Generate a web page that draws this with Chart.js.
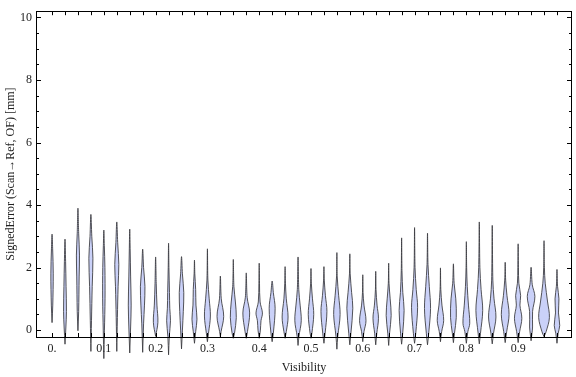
<!DOCTYPE html>
<html lang="en">
<head>
    <meta charset="UTF-8">
    <title>Signed error vs visibility</title>
    <script src="https://cdn.jsdelivr.net/npm/chart.js"></script>
    <style>
        body {
            margin: 0;
            padding: 0;
            background: #fff;
        }
        #wrap {
            width: 576px;
            height: 377px;
        }
    </style>
</head>
<body>
    <div id="wrap"><canvas id="violinChart" width="576" height="377"></canvas></div>

    <script>
        // violin centres (visibility)
        const visibility = [
            0.000, 0.025, 0.050, 0.075, 0.100, 0.125, 0.150, 0.175, 0.200, 0.225,
            0.250, 0.275, 0.300, 0.325, 0.350, 0.375, 0.400, 0.425, 0.450, 0.475,
            0.500, 0.525, 0.550, 0.575, 0.600, 0.625, 0.650, 0.675, 0.700, 0.725,
            0.750, 0.775, 0.800, 0.825, 0.850, 0.875, 0.900, 0.925, 0.950, 0.975
        ];
        // smallest and largest signed error of each violin [mm]
        const errMin = [
            0.24, -0.45, -0.02, -0.68, -0.91, -0.68, -0.73, -0.71, -0.20, -0.79,
            -0.60, -0.42, -0.37, -0.21, -0.26, -0.26, -0.26, -0.37, -0.26, -0.49,
            -0.26, -0.42, -0.61, -0.47, -0.37, -0.47, -0.49, -0.45, -0.42, -0.47,
            -0.37, -0.40, -0.42, -0.44, -0.44, -0.40, -0.40, -0.34, -0.21, -0.42
        ];
        const errMax = [
            3.07, 2.91, 3.90, 3.70, 3.20, 3.46, 3.23, 2.59, 2.34, 2.78,
            2.35, 2.24, 2.60, 1.73, 2.26, 1.83, 2.14, 1.57, 2.03, 2.34,
            1.97, 2.03, 2.48, 2.44, 1.77, 1.88, 2.14, 2.95, 3.28, 3.10,
            1.99, 2.12, 2.83, 3.46, 3.35, 2.17, 2.76, 2.01, 2.86, 1.94
        ];
        // density profile of each violin: [error, relative density]
        const density = [
            [[0.8, 0.12], [1.8, 0.2], [2.6, 0.1]],
            [[0.1, 0.15], [0.6, 0.24], [1.4, 0.18], [2.2, 0.1]],
            [[0.6, 0.12], [1.7, 0.2], [2.4, 0.26], [3.1, 0.12]],
            [[0.3, 0.1], [1.4, 0.22], [2.3, 0.34], [3.0, 0.15]],
            [[0.0, 0.1], [1.0, 0.2], [2.0, 0.18], [2.7, 0.08]],
            [[0.4, 0.1], [1.4, 0.22], [2.1, 0.34], [2.8, 0.15]],
            [[0.1, 0.15], [0.8, 0.24], [1.7, 0.15], [2.6, 0.07]],
            [[0.2, 0.15], [0.8, 0.3], [1.4, 0.38], [2.0, 0.15]],
            [[0.25, 0.38], [0.8, 0.22], [1.5, 0.1]],
            [[-0.2, 0.12], [0.3, 0.32], [0.7, 0.2], [1.2, 0.15], [2.0, 0.06]],
            [[0.0, 0.15], [0.6, 0.3], [1.2, 0.38], [1.8, 0.15]],
            [[-0.05, 0.2], [0.35, 0.42], [0.8, 0.25], [1.3, 0.2], [1.8, 0.06]],
            [[-0.1, 0.18], [0.45, 0.5], [1.0, 0.3], [1.6, 0.08]],
            [[-0.05, 0.12], [0.44, 0.56], [1.0, 0.15]],
            [[-0.1, 0.2], [0.4, 0.5], [0.9, 0.35], [1.4, 0.1]],
            [[-0.05, 0.2], [0.55, 0.57], [1.05, 0.15]],
            [[0.0, 0.2], [0.3, 0.3], [0.55, 0.54], [0.9, 0.15], [1.5, 0.05]],
            [[-0.1, 0.2], [0.7, 0.5], [1.2, 0.2]],
            [[-0.05, 0.2], [0.42, 0.5], [1.0, 0.2], [1.5, 0.06]],
            [[-0.2, 0.15], [0.3, 0.54], [0.8, 0.35], [1.3, 0.12]],
            [[-0.1, 0.15], [0.5, 0.46], [1.0, 0.25], [1.5, 0.06]],
            [[-0.1, 0.2], [0.6, 0.5], [1.1, 0.25], [1.6, 0.06]],
            [[-0.2, 0.15], [0.5, 0.54], [1.1, 0.3], [1.7, 0.06]],
            [[-0.1, 0.18], [0.7, 0.5], [1.2, 0.3], [1.8, 0.06]],
            [[-0.05, 0.2], [0.3, 0.54], [0.8, 0.2], [1.2, 0.05]],
            [[-0.1, 0.18], [0.38, 0.46], [0.8, 0.22], [1.3, 0.05]],
            [[-0.1, 0.15], [0.47, 0.42], [1.0, 0.25], [1.5, 0.06]],
            [[-0.1, 0.18], [0.63, 0.42], [1.2, 0.2], [1.9, 0.06]],
            [[-0.1, 0.2], [0.73, 0.51], [1.3, 0.28], [2.0, 0.08]],
            [[-0.1, 0.2], [0.69, 0.51], [1.4, 0.3], [2.1, 0.08]],
            [[-0.05, 0.2], [0.31, 0.54], [0.8, 0.25], [1.3, 0.06]],
            [[-0.1, 0.18], [0.4, 0.48], [1.0, 0.4], [1.5, 0.12]],
            [[-0.05, 0.25], [0.22, 0.57], [0.8, 0.35], [1.4, 0.15], [2.0, 0.05]],
            [[-0.1, 0.2], [0.63, 0.57], [1.3, 0.3], [2.0, 0.1]],
            [[-0.1, 0.22], [0.42, 0.62], [1.0, 0.3], [1.6, 0.1]],
            [[-0.05, 0.25], [0.5, 0.65], [1.1, 0.3], [1.6, 0.08]],
            [[-0.05, 0.25], [0.38, 0.62], [0.8, 0.3], [1.1, 0.42], [1.5, 0.12], [2.0, 0.05]],
            [[-0.1, 0.15], [0.1, 0.25], [0.6, 0.25], [1.08, 0.64], [1.45, 0.2]],
            [[-0.05, 0.35], [0.4, 0.9], [0.9, 0.6], [1.5, 0.2], [2.0, 0.06]],
            [[-0.1, 0.2], [0.15, 0.46], [0.55, 0.25], [1.0, 0.33], [1.4, 0.1]]
        ];

        const xLabelValues = [0, 0.1, 0.2, 0.3, 0.4, 0.5, 0.6, 0.7, 0.8, 0.9];
        const xLabelTexts = ['0.', '0.1', '0.2', '0.3', '0.4', '0.5', '0.6', '0.7', '0.8', '0.9'];
        const yLabelValues = [0, 2, 4, 6, 8, 10];
        const yLabelTexts = ['0', '2', '4', '6', '8', '10'];

        const halfWidth = 0.0115; // density 1 -> about half the spacing between violins

        function violinOutline(i) {
            const x0 = visibility[i];
            const pts = [{ x: x0, y: errMin[i] }];
            density[i].forEach(k => pts.push({ x: x0 + k[1] * halfWidth, y: k[0] }));
            pts.push({ x: x0, y: errMax[i] });
            density[i].slice().reverse().forEach(k => pts.push({ x: x0 - k[1] * halfWidth, y: k[0] }));
            pts.push({ x: x0, y: errMin[i] });
            return pts;
        }

        const datasets = visibility.map((v, i) => ({
            label: 'V ' + v,
            data: violinOutline(i),
            showLine: true,
            fill: 'shape',
            tension: 0.35,
            backgroundColor: 'rgb(202, 209, 248)',
            borderColor: 'rgba(55, 55, 60, 0.85)',
            borderWidth: 1,
            pointRadius: 0,
            clip: false
        }));

        // frame with inward ticks on all four sides, as in the original plot
        const frameTicks = {
            id: 'frameTicks',
            afterDraw(chart) {
                const { ctx, chartArea: a, scales } = chart;
                const xs = scales.x, ys = scales.y;
                ctx.save();
                ctx.strokeStyle = '#000';
                ctx.lineWidth = 1;
                ctx.beginPath();
                visibility.forEach(v => {
                    const px = Math.round(xs.getPixelForValue(v)) + 0.5;
                    ctx.moveTo(px, a.bottom); ctx.lineTo(px, a.bottom - 4);
                    ctx.moveTo(px, a.top); ctx.lineTo(px, a.top + 4);
                });
                for (let k = 0; k <= 20; k++) {
                    const v = k * 0.5;
                    const len = (k % 4 === 0) ? 5 : 3;
                    const py = Math.round(ys.getPixelForValue(v)) + 0.5;
                    ctx.moveTo(a.left, py); ctx.lineTo(a.left + len, py);
                    ctx.moveTo(a.right, py); ctx.lineTo(a.right - len, py);
                }
                ctx.stroke();
                ctx.strokeRect(Math.round(a.left) + 0.5, Math.round(a.top) + 0.5,
                    Math.round(a.right - a.left) - 1, Math.round(a.bottom - a.top));
                ctx.restore();
            }
        };

        Chart.defaults.font.family = "'Liberation Serif', 'DejaVu Serif', serif";
        Chart.defaults.font.size = 12;
        Chart.defaults.color = '#222';

        new Chart(document.getElementById('violinChart'), {
            type: 'scatter',
            data: { datasets: datasets },
            options: {
                responsive: false,
                animation: false,
                layout: { padding: { top: 5, right: 4, left: 0, bottom: 0 } },
                plugins: {
                    legend: { display: false },
                    tooltip: { enabled: false }
                },
                scales: {
                    x: {
                        type: 'linear',
                        min: -0.031,
                        max: 1.004,
                        grid: { display: false, drawTicks: false },
                        border: { display: false },
                        afterBuildTicks: s => { s.ticks = xLabelValues.map(v => ({ value: v })); },
                        afterFit: s => { s.height = 40; },
                        ticks: {
                            autoSkip: false,
                            maxRotation: 0,
                            padding: 5,
                            callback: (val, idx) => xLabelTexts[idx]
                        },
                        title: {
                            display: true,
                            text: 'Visibility',
                            padding: { top: 0, bottom: 2 }
                        }
                    },
                    y: {
                        type: 'linear',
                        min: -0.22,
                        max: 10.2,
                        grid: { display: false, drawTicks: false },
                        border: { display: false },
                        afterBuildTicks: s => { s.ticks = yLabelValues.map(v => ({ value: v })); },
                        afterFit: s => { s.width = 36; },
                        ticks: {
                            autoSkip: false,
                            padding: 4,
                            callback: (val, idx) => yLabelTexts[idx]
                        },
                        title: {
                            display: true,
                            text: 'SignedError (Scan\u2192Ref, OF) [mm]',
                            padding: { top: 4, bottom: 0 }
                        }
                    }
                }
            },
            plugins: [frameTicks]
        });
    </script>
</body>
</html>
